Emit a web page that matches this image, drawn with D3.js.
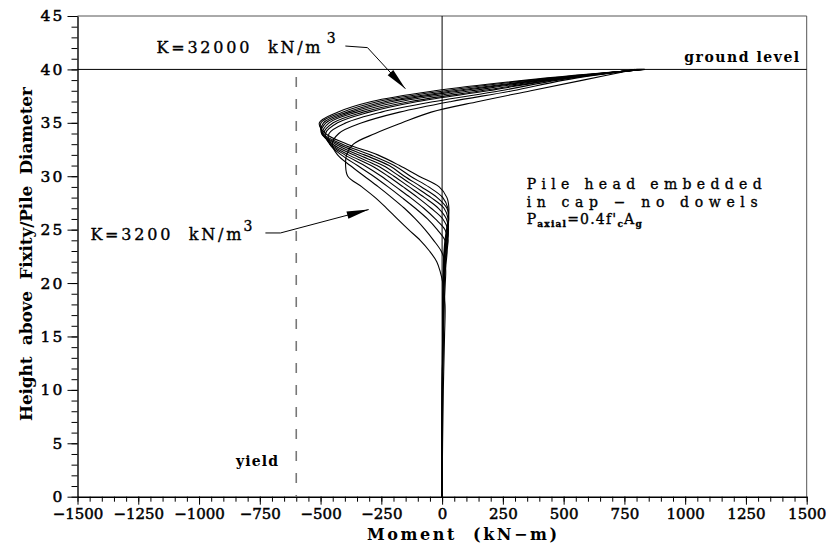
<!DOCTYPE html>
<html>
<head>
<meta charset="utf-8">
<script src="https://cdn.jsdelivr.net/npm/d3@7"></script>
<style>
  body { margin: 0; background: #fff; }
  text { font-family: "DejaVu Serif", serif; fill: #000; }
</style>
</head>
<body>
<svg id="chart" width="829" height="546"></svg>
<script>
// heights (pile diameters above fixity) shared by all curves
var heights = [40, 39, 38, 37, 36, 35, 34, 33, 32, 31, 30, 29, 28, 27, 26, 25, 24, 23, 22, 21, 20, 18, 15, 10, 5, 0];

// moment (kN-m) per subgrade modulus K (kN/m3)
var m32000 = [835, 345, -30, -290, -430, -505, -480, -390, -265, -175, -95, -12, 20, 28, 25, 18, 12, 8, 6, 5, 4, 3, 2, 1, 0, 0];
var m28800 = [831, 370, 12, -262, -410, -498, -490, -410, -295, -197, -130, -55, 3, 24, 27, 21, 14, 10, 7, 6, 5, 3, 2, 1, 0, 0];
var m25600 = [827, 397, 50, -232, -390, -488, -495, -425, -320, -218, -155, -85, -20, 20, 27, 23, 16, 11, 8, 6, 5, 4, 2, 1, 0, 0];
var m22400 = [823, 410, 80, -205, -372, -478, -496, -438, -345, -243, -175, -110, -45, 8, 25, 25, 18, 12, 9, 7, 6, 4, 3, 1, 0, 0];
var m19200 = [819, 427, 120, -170, -350, -465, -492, -450, -365, -268, -198, -135, -72, -15, 18, 26, 21, 14, 10, 8, 6, 4, 3, 1, 0, 0];
var m16000 = [815, 446, 160, -130, -325, -448, -487, -458, -385, -292, -222, -160, -100, -45, 3, 24, 24, 17, 12, 9, 7, 5, 3, 1, 0, 0];
var m12800 = [811, 455, 190, -100, -300, -430, -480, -462, -400, -320, -250, -190, -130, -75, -28, 12, 24, 20, 14, 10, 8, 5, 3, 1, 0, 0];
var m9600  = [807, 476, 240, -30, -250, -395, -465, -462, -415, -348, -282, -222, -165, -110, -60, -20, 12, 20, 17, 12, 9, 6, 3, 1, 0, 0];
var m6400  = [803, 502, 290, 38, -175, -330, -425, -452, -430, -378, -320, -262, -207, -155, -110, -70, -35, -4, 12, 15, 13, 9, 5, 2, 1, 0];
var m3200  = [795, 580, 365, 150, -45, -165, -275, -365, -393, -397, -388, -330, -275, -228, -184, -138, -90, -52, -22, -7, 3, 12, 10, 5, 2, 0];

var curves = [m32000, m28800, m25600, m22400, m19200, m16000, m12800, m9600, m6400, m3200];

var xMajor = d3.range(-1500, 1501, 250);
var xMinor = d3.range(-1500, 1501, 50);
var yMajor = d3.range(0, 46, 5);
var yMinor = d3.range(0, 46, 1);

var YIELD = -600;
var GROUND = 40;

var width = 829;
var height = 546;
var margin = {left: 77.5, right: 22.3, top: 16, bottom: 49.3};

var x = d3.scaleLinear().domain([-1500, 1500]).range([margin.left, width - margin.right]);
var y = d3.scaleLinear().domain([0, 45]).range([height - margin.bottom, margin.top]);

var svg = d3.select('#chart');

// frame (top and right)
svg.append('path')
  .attr('d', 'M' + x(-1500) + ',' + y(45) + 'H' + x(1500) + 'V' + y(0))
  .attr('fill', 'none')
  .attr('stroke', '#555')
  .attr('stroke-width', 1);

// minor ticks
svg.append('g')
  .attr('transform', 'translate(0,' + y(0) + ')')
  .call(d3.axisBottom(x).tickValues(xMinor).tickSize(5).tickSizeOuter(0).tickFormat(''))
  .call(function(g) { g.select('.domain').remove(); });

svg.append('g')
  .attr('transform', 'translate(' + x(-1500) + ',0)')
  .call(d3.axisLeft(y).tickValues(yMinor).tickSize(6).tickSizeOuter(0).tickFormat(''))
  .call(function(g) { g.select('.domain').remove(); });

// major axes
var xAxis = svg.append('g')
  .attr('transform', 'translate(0,' + y(0) + ')')
  .call(d3.axisBottom(x).tickValues(xMajor).tickSize(8).tickSizeOuter(0).tickPadding(3.8)
    .tickFormat(d3.format('d')));

xAxis.selectAll('text')
  .attr('font-size', 15)
  .style('font-family', '"DejaVu Serif", serif')
  .attr('stroke', '#000')
  .attr('stroke-width', 0.5);

var yAxis = svg.append('g')
  .attr('transform', 'translate(' + x(-1500) + ',0)')
  .call(d3.axisLeft(y).tickValues(yMajor).tickSize(10).tickSizeOuter(0).tickPadding(3)
    .tickFormat(d3.format('d')));

yAxis.selectAll('text')
  .attr('font-size', 15.5)
  .style('font-family', '"DejaVu Serif", serif')
  .style('letter-spacing', '2.2px')
  .attr('stroke', '#000')
  .attr('stroke-width', 0.5);

svg.selectAll('.domain').attr('stroke', '#000').attr('stroke-width', 1.4);
svg.selectAll('.tick line').attr('stroke', '#000').attr('stroke-width', 1);

// zero line and ground level
svg.append('line')
  .attr('x1', x(0)).attr('x2', x(0))
  .attr('y1', y(0)).attr('y2', y(45))
  .attr('stroke', '#000').attr('stroke-width', 1);

svg.append('line')
  .attr('x1', x(-1500)).attr('x2', x(1500))
  .attr('y1', y(GROUND)).attr('y2', y(GROUND))
  .attr('stroke', '#000').attr('stroke-width', 1);

// yield line
svg.append('line')
  .attr('x1', x(YIELD)).attr('x2', x(YIELD))
  .attr('y1', y(39.3)).attr('y2', y(0))
  .attr('stroke', '#777')
  .attr('stroke-width', 1.6)
  .attr('stroke-dasharray', '10,12');

// moment curves
var line = d3.line()
  .x(function(d) { return x(d[1]); })
  .y(function(d) { return y(d[0]); })
  .curve(d3.curveCatmullRom.alpha(0.5));

svg.selectAll('.curve')
  .data(curves)
  .enter()
  .append('path')
  .attr('class', 'curve')
  .attr('fill', 'none')
  .attr('stroke', '#000')
  .attr('stroke-width', 1.1)
  .attr('d', function(values) {
    return line(heights.map(function(h, i) { return [h, values[i]]; }));
  });

// arrows
function arrow(points) {
  var p = points.map(function(d) { return [x(d[0]), y(d[1])]; });
  svg.append('path')
    .attr('d', d3.line()(p))
    .attr('fill', 'none')
    .attr('stroke', '#000')
    .attr('stroke-width', 1);
  var a = p[p.length - 2];
  var b = p[p.length - 1];
  var dx = b[0] - a[0];
  var dy = b[1] - a[1];
  var len = Math.sqrt(dx * dx + dy * dy);
  var ux = dx / len;
  var uy = dy / len;
  var hl = 22;
  var hw = 3.8;
  var bx = b[0] - ux * hl;
  var by = b[1] - uy * hl;
  svg.append('path')
    .attr('d', 'M' + b[0] + ',' + b[1] +
      'L' + (bx - uy * hw) + ',' + (by + ux * hw) +
      'L' + (bx + uy * hw) + ',' + (by - ux * hw) + 'Z')
    .attr('fill', '#000');
}

arrow([[-398, 42.19], [-307, 42.04], [-151, 38.19]]);
arrow([[-727, 24.69], [-665, 24.69], [-302, 26.88]]);

// labels
function label(txt, mx, hy, size, weight, len) {
  var t = svg.append('text')
    .attr('x', x(mx))
    .attr('y', y(hy))
    .attr('font-size', size)
    .attr('font-weight', weight)
    .attr('stroke', '#000')
    .attr('stroke-width', weight == 'bold' ? 0 : 0.35)
    .style('white-space', 'pre')
    .text(txt);
  if (len) t.attr('textLength', len).attr('lengthAdjust', 'spacing');
  return t;
}

label('K=32000  kN/m', -1175, 41.57, 16, 'normal', 164);
label('3', -475, 42.5, 14, 'normal');
label('K=3200  kN/m', -1447, 24.06, 16, 'normal', 151);
label('3', -817, 24.88, 14, 'normal');

label('ground level', 996, 40.65, 14, 'bold', 115);
label('yield', -848, 2.87, 14, 'bold', 42);

label('Pile head embedded', 348, 28.76, 14, 'normal', 235);
label('in cap \u2212 no dowels', 348, 27.1, 14, 'normal', 231);

var p = svg.append('text')
  .attr('x', x(348))
  .attr('y', y(25.55))
  .attr('font-size', 14)
  .attr('stroke', '#000')
  .attr('stroke-width', 0.35)
  .style('letter-spacing', '1.2px');
p.append('tspan').text('P');
p.append('tspan').attr('font-size', 9).attr('font-weight', 'bold').attr('dy', 3).text('axial');
p.append('tspan').attr('dy', -3).text('=0.4f\'');
p.append('tspan').attr('font-size', 9).attr('font-weight', 'bold').attr('dy', 3).text('c');
p.append('tspan').attr('dy', -3).text('A');
p.append('tspan').attr('font-size', 9).attr('font-weight', 'bold').attr('dy', 3).text('g');

// axis titles
svg.append('text')
  .attr('x', 367)
  .attr('y', 539.5)
  .attr('font-size', 16)
  .attr('font-weight', 'bold')
  .attr('textLength', 190)
  .attr('lengthAdjust', 'spacing')
  .style('white-space', 'pre')
  .text('Moment  (kN\u2212m)');

svg.append('text')
  .attr('transform', 'translate(32,254) rotate(-90)')
  .attr('text-anchor', 'middle')
  .attr('font-size', 17)
  .attr('font-weight', 'bold')
  .attr('textLength', 334)
  .attr('lengthAdjust', 'spacing')
  .style('white-space', 'pre')
  .text('Height  above  Fixity/Pile  Diameter');
</script>
</body>
</html>
